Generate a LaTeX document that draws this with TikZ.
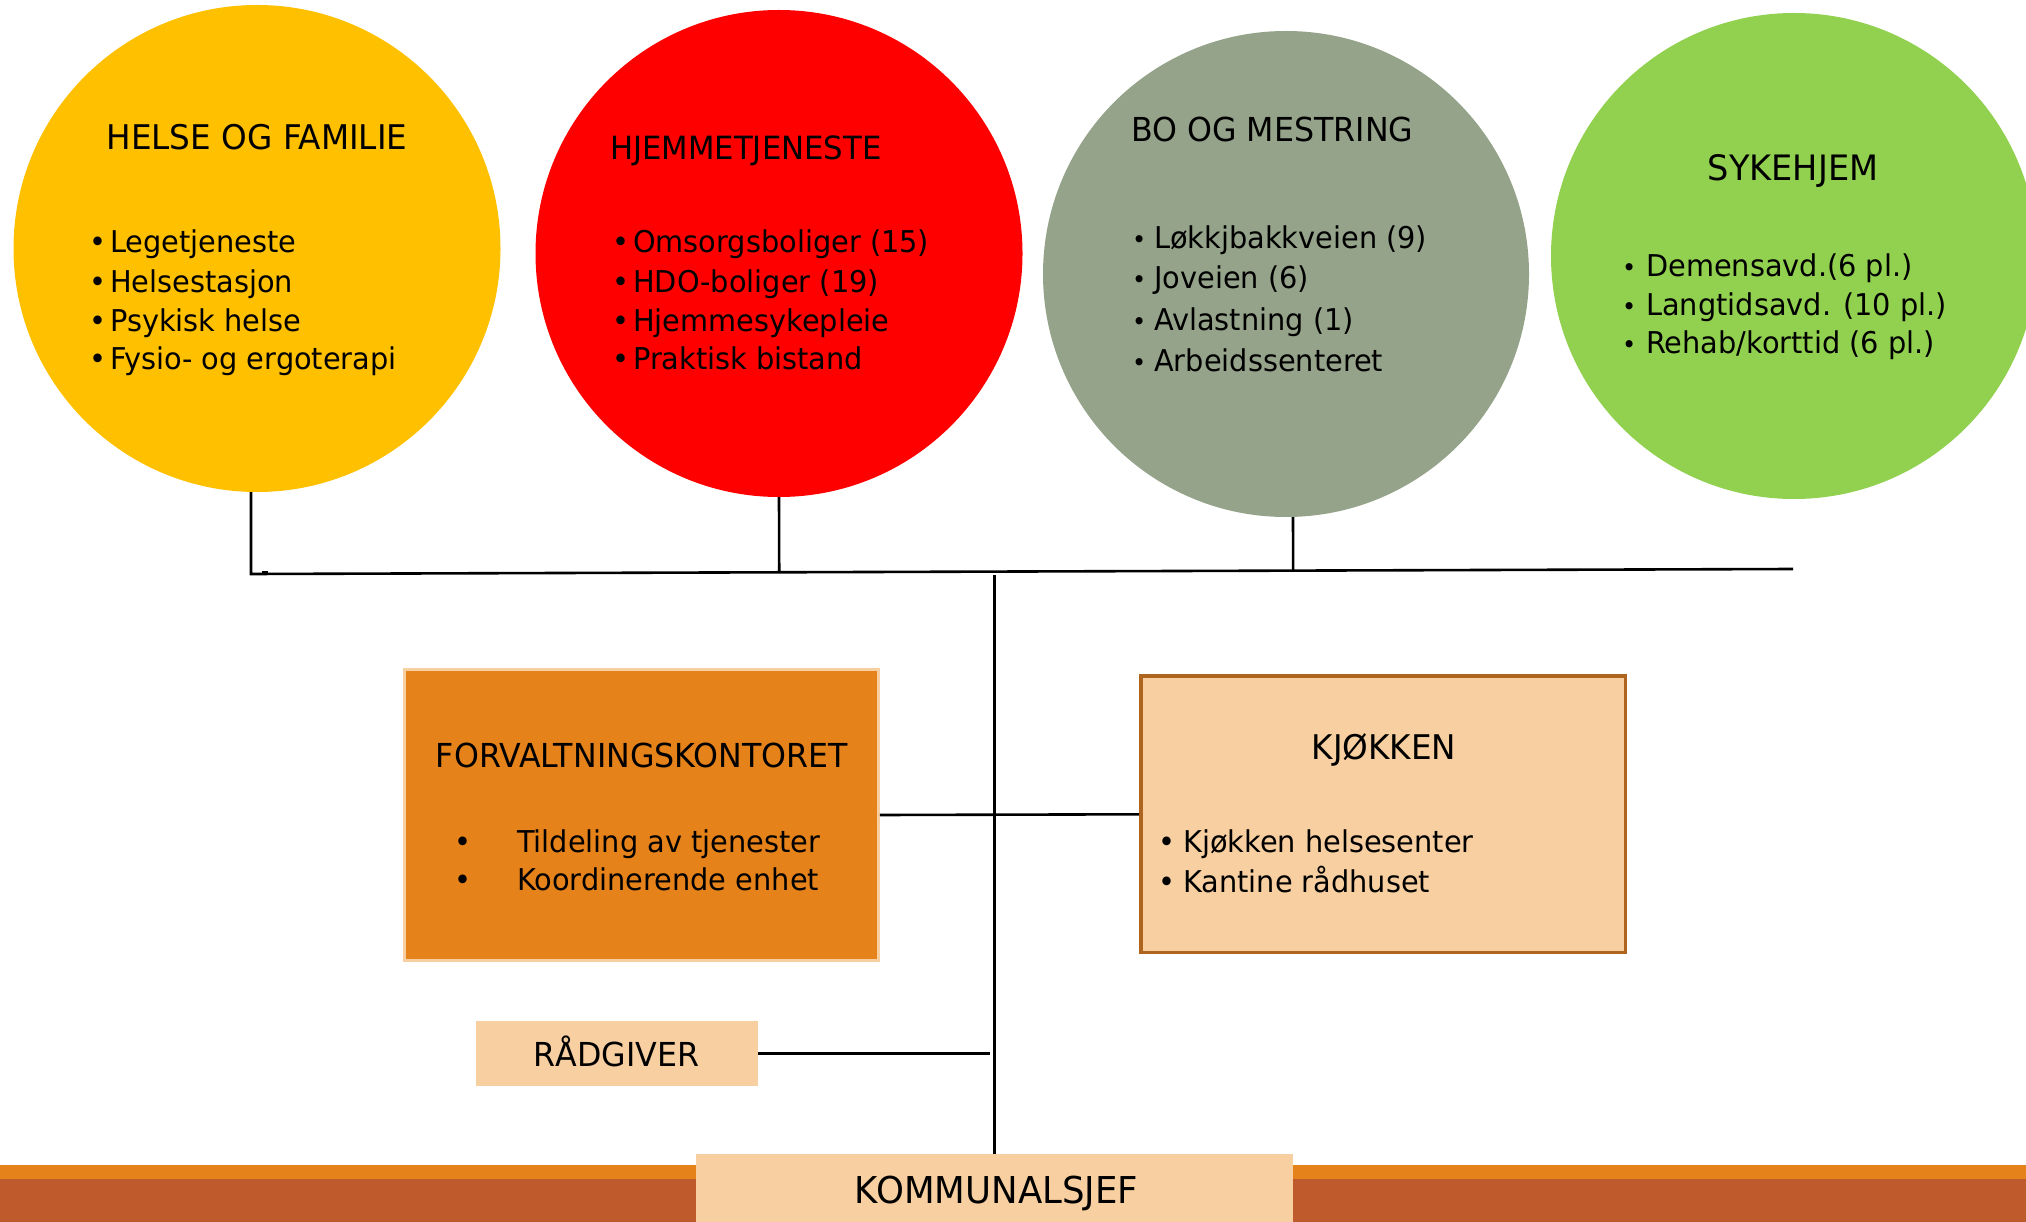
\documentclass[tikz,border=0pt]{standalone}
\usepackage{fontspec}
\setmainfont{DejaVu Sans}[FakeStretch=0.96]
\usetikzlibrary{calc}
\definecolor{cYellow}{HTML}{FFC000}
\definecolor{cRed}{HTML}{FF0000}
\definecolor{cSage}{HTML}{95A38A}
\definecolor{cGreen}{HTML}{92D050}
\definecolor{cOrange}{HTML}{E5821A}
\definecolor{cPeach}{HTML}{F7CFA0}
\definecolor{cBrown}{HTML}{B0651F}
\definecolor{cRust}{HTML}{BF5A2C}
\newcommand\myfs[1]{\fontsize{#1}{#1}\selectfont}
\newcommand\bul[1]{\llap{\textbullet\hspace{#1pt}}}
\newcommand\sbul[1]{\llap{{\myfs{25}\textbullet}\hspace{#1pt}}}
\tikzset{
  circ/.style={circle, inner sep=0pt, minimum size=#1},
  txt/.style={anchor=base west, inner sep=0pt, font=\myfs{30}},
  ttl/.style={anchor=base, inner sep=0pt},
  ttlw/.style={anchor=base west, inner sep=0pt},
  conn/.style={line width=2.6pt, black},
}
\begin{document}
\begin{tikzpicture}[x=1pt,y=-1pt]
\useasboundingbox (0,0) rectangle (2026,1222);
\clip (0,0) rectangle (2026,1222);
% bottom band
\fill[cOrange] (0,1165) rectangle (2026,1180);
\fill[cRust] (0,1179) rectangle (2026,1222);

% circles
\node[circ=487pt, fill=cYellow] (c1) at (257,248.5) {};
\node[circ=487pt, fill=cRed] (c2) at (779,253.5) {};
\node[circ=486pt, fill=cSage] (c3) at (1286,274) {};
\node[circ=486pt, fill=cGreen] (c4) at (1794,256) {};

% boxes
\node[draw=cPeach, line width=3pt, fill=cOrange, minimum width=473.5pt, minimum height=291pt, inner sep=0pt] (forv) at (641.5,815) {};
\node[draw=cBrown, line width=3.5pt, fill=cPeach, minimum width=484.5pt, minimum height=276.5pt, inner sep=0pt] (kj) at (1383,814.3) {};
\node[fill=cPeach, minimum width=282pt, minimum height=65pt, inner sep=0pt] (rad) at (617,1053.5) {};
\node[fill=cPeach, minimum width=597pt, minimum height=70pt, inner sep=0pt] (komm) at (994.5,1189) {};

% connectors
\coordinate (busL) at (251,574);
\coordinate (busR) at (1793,569);
\draw[conn] ([xshift=-6pt]c1.south) -- (busL) -- (busR);
\draw[conn] (c2.south) -- ($(busL)!(c2.south)!(busR)$);
\draw[conn] ([xshift=7pt]c3.south) -- ($(busL)!([xshift=7pt]c3.south)!(busR)$);
\coordinate (ctop) at (994.5,575);
\draw[conn] (komm.north) -- (ctop);
\draw[conn] (forv.east) -- (kj.west);
\coordinate (radR) at (990,1053.5);
\draw[conn] (rad.east) -- (radR);
\draw[line width=2pt] (262,571.5) -- (268,571.5);

% circle 1
\node[ttl, font=\myfs{34}] (t1) at (257,150) {HELSE OG FAMILIE};
\node[txt] (t1a) at (110,253) {\bul{4}Legetjeneste};
\node[txt] (t1b) at (110,293) {\bul{4}Helsestasjon};
\node[txt] (t1c) at (110,332) {\bul{4}Psykisk helse};
\node[txt] (t1d) at (110,370) {\bul{4}Fysio- og ergoterapi};

% circle 2
\node[ttlw, font=\myfs{32}] (t2) at (610,160) {HJEMMETJENESTE};
\node[txt] (t2a) at (633,253) {\bul{4}Omsorgsboliger (15)};
\node[txt] (t2b) at (633,293) {\bul{4}HDO-boliger (19)};
\node[txt] (t2c) at (633,332) {\bul{4}Hjemmesykepleie};
\node[txt] (t2d) at (633,370) {\bul{4}Praktisk bistand};

% circle 3
\node[ttlw, font=\myfs{33}] (t3) at (1131,142) {BO OG MESTRING};
\node[txt] (t3a) at (1154,249) {\sbul{8}Løkkjbakkveien (9)};
\node[txt] (t3b) at (1154,289) {\sbul{8}Joveien (6)};
\node[txt] (t3c) at (1154,330.5) {\sbul{8}Avlastning (1)};
\node[txt] (t3d) at (1154,372) {\sbul{8}Arbeidssenteret};

% circle 4
\node[ttl, font=\myfs{35}] (t4) at (1793,181) {SYKEHJEM};
\node[txt] (t4a) at (1646,277) {\sbul{10}Demensavd.(6 pl.)};
\node[txt] (t4b) at (1646,316) {\sbul{10}Langtidsavd. (10 pl.)};
\node[txt] (t4c) at (1646,354) {\sbul{10}Rehab/korttid (6 pl.)};

% forvaltning
\node[ttl, font=\myfs{33}] (t5) at (642,767) {FORVALTNINGSKONTORET};
\node[txt] (t5a) at (517,852) {\bul{46}Tildeling av tjenester};
\node[txt] (t5b) at (517,890) {\bul{46}Koordinerende enhet};

% kjokken
\node[ttl, font=\myfs{34}] (t6) at (1384,759) {KJØKKEN};
\node[txt] (t6a) at (1183,852) {\bul{8}Kjøkken helsesenter};
\node[txt] (t6b) at (1183,892) {\bul{8}Kantine rådhuset};

% radgiver / kommunalsjef
\node[ttl, font=\myfs{33}] (t7) at (616.5,1066) {RÅDGIVER};
\node[ttl, font=\myfs{37}] (t8) at (996.5,1203) {KOMMUNALSJEF};
\end{tikzpicture}
\end{document}
